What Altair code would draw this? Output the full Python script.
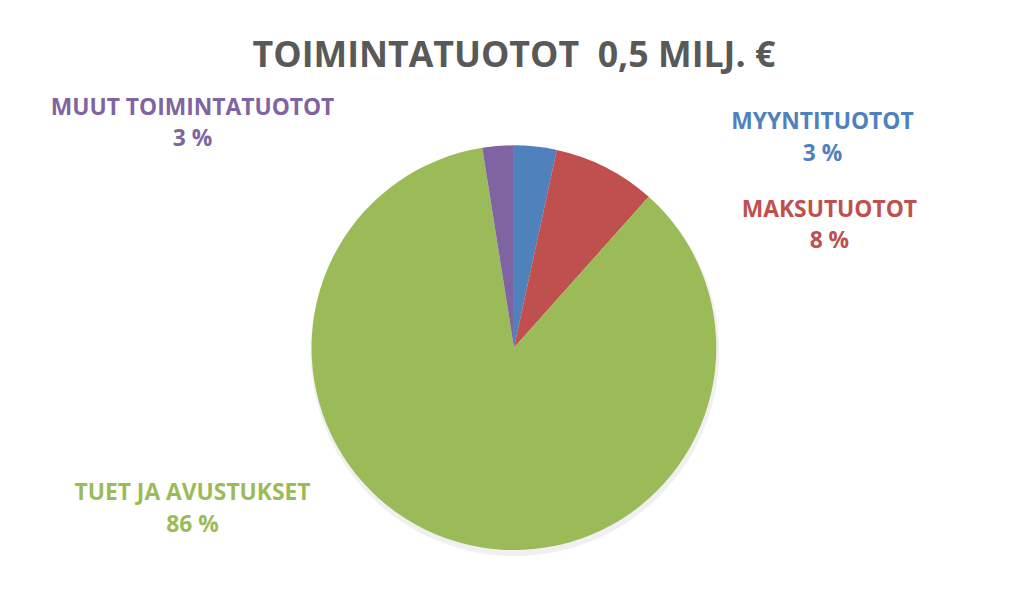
import altair as alt
import pandas as pd

categories = ["MYYNTITUOTOT", "MAKSUTUOTOT", "TUET JA AVUSTUKSET", "MUUT TOIMINTATUOTOT"]
shares = [3.4, 8.2, 85.9, 2.5]
share_labels = ["3 %", "8 %", "86 %", "3 %"]
colors = ["#4F81BD", "#C0504D", "#9BBB59", "#8064A2"]
title_text = "TOIMINTATUOTOT\u00a0\u00a00,5 MILJ. €"

df = pd.DataFrame({"cat": categories, "share": shares, "lbl": share_labels,
                   "order": list(range(len(categories)))})

W, H = 1003, 602
CX, CY, R = 510, 340, 204
FONT = "Open Sans"

# label anchor positions (layout only), first-line baseline
label_pos = {
    "MYYNTITUOTOT": (821, 120),
    "MAKSUTUOTOT": (828, 208),
    "TUET JA AVUSTUKSET": (186, 494),
    "MUUT TOIMINTATUOTOT": (186, 105),
}

color_scale = alt.Scale(domain=categories, range=colors)
base = alt.Chart(df)

shadow = base.mark_arc(outerRadius=R + 2, color="#000000", opacity=0.06).encode(
    theta=alt.Theta("share:Q", stack=True),
    order=alt.Order("order:Q"),
    x=alt.value(CX + 1), y=alt.value(CY + 4),
)

pie = base.mark_arc(outerRadius=R).encode(
    theta=alt.Theta("share:Q", stack=True),
    color=alt.Color("cat:N", scale=color_scale, legend=None),
    order=alt.Order("order:Q"),
    x=alt.value(CX), y=alt.value(CY),
)

layers = [shadow, pie]
for cat, col in zip(categories, colors):
    px, py = label_pos[cat]
    t = base.transform_filter(alt.datum.cat == cat).transform_calculate(
        txt=alt.datum.cat + "\n" + alt.datum.lbl
    ).mark_text(
        font=FONT, fontWeight="bold", fontSize=23, color=col,
        align="center", baseline="alphabetic", lineBreak="\n", lineHeight=32,
    ).encode(text="txt:N", x=alt.value(px), y=alt.value(py))
    layers.append(t)

title = alt.Chart(pd.DataFrame({"t": [title_text]})).mark_text(
    font=FONT, fontWeight="bold", fontSize=36, color="#595959",
    align="center", baseline="alphabetic",
).encode(text="t:N", x=alt.value(CX), y=alt.value(57))
layers.append(title)

chart = alt.layer(*layers).properties(
    width=W, height=H, autosize=alt.AutoSizeParams(type="none"), padding=0,
    background="#ffffff",
).configure_view(stroke=None)

chart.save("out.html", embed_options={"renderer": "svg", "actions": False})
